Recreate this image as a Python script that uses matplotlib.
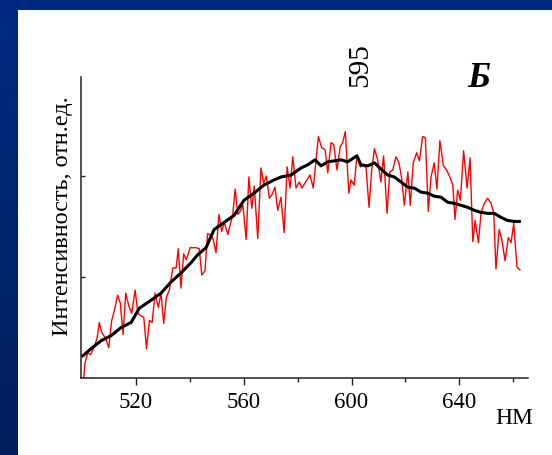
import numpy as np
import matplotlib
matplotlib.use("Agg")
import matplotlib.pyplot as plt
from matplotlib.patches import Rectangle
from matplotlib.ticker import FixedLocator, NullFormatter

# Raw spectrum (wavelength, nm / intensity, arb. units)
raw_nm = [500.6, 501.1, 502.1, 503.1, 504.0, 504.6, 505.6, 506.4, 507.3, 508.3,
          508.9, 509.9, 511.0, 512.0, 513.2, 514.2, 515.2, 516.2, 517.3, 518.4,
          519.7, 520.7, 521.6, 522.9, 523.9, 525.0, 526.0, 527.1, 528.3, 529.3,
          530.3, 531.3, 532.4, 533.7, 534.9, 535.7, 536.7, 537.7, 538.7, 540.1,
          541.2, 542.3, 543.5, 544.4, 545.6, 546.6, 547.9, 548.7, 549.7, 550.8,
          551.8, 552.8, 554.1, 554.9, 555.9, 556.8, 557.8, 558.7, 559.7, 560.9,
          561.9, 563.0, 563.9, 565.2, 566.4, 567.4, 568.4, 569.5, 570.6, 571.6,
          572.6, 573.8, 575.0, 576.1, 577.2, 578.2, 579.4, 580.6, 581.6, 582.7,
          583.7, 584.6, 585.8, 587.7, 588.9, 590.2, 591.2, 592.4, 593.4, 594.6,
          595.8, 596.7, 597.7, 599.0, 599.8, 601.0, 602.0, 603.3, 604.5, 605.4,
          606.5, 607.5, 608.5, 609.7, 610.9, 611.9, 613.2, 614.2, 615.3, 616.5,
          617.6, 618.6, 619.6, 620.9, 621.8, 622.9, 624.2, 625.2, 626.4, 627.4,
          628.5, 629.5, 630.7, 631.7, 632.8, 634.1, 635.3, 636.5, 637.6, 638.4,
          639.4, 640.4, 641.6, 642.9, 644.0, 645.0, 645.9, 647.1, 648.1, 649.3,
          650.5, 651.8, 652.8, 653.6, 654.8, 655.8, 657.0, 658.2, 659.2, 660.2,
          661.4, 662.5]
raw_val = [0.00, 0.15, 0.25, 0.23, 0.28, 0.31, 0.40, 0.55, 0.45, 0.41,
           0.38, 0.30, 0.57, 0.67, 0.82, 0.74, 0.43, 0.84, 0.72, 0.64,
           0.87, 0.64, 0.62, 0.60, 0.29, 0.57, 0.55, 0.84, 0.70, 0.84,
           0.54, 0.80, 0.87, 1.09, 1.09, 1.28, 0.89, 1.23, 1.17, 1.29,
           1.29, 1.29, 1.28, 1.02, 1.06, 1.43, 1.41, 1.37, 1.24, 1.62,
           1.45, 1.54, 1.42, 1.51, 1.61, 1.87, 1.62, 1.65, 1.71, 1.37,
           1.99, 1.68, 1.90, 1.38, 2.08, 1.93, 2.00, 1.78, 1.82, 1.89,
           1.66, 1.79, 1.44, 2.09, 1.88, 2.19, 1.88, 1.94, 1.88, 1.93,
           1.97, 2.01, 1.88, 2.39, 2.28, 2.26, 2.03, 2.33, 2.31, 2.06,
           2.29, 2.33, 2.44, 1.83, 1.96, 1.91, 2.20, 2.09, 2.11, 2.08,
           1.69, 2.06, 2.27, 2.16, 1.94, 2.20, 1.63, 2.04, 2.06, 2.19,
           2.13, 1.98, 1.71, 2.04, 1.71, 2.13, 2.23, 2.15, 2.39, 2.38,
           1.65, 1.99, 2.13, 1.87, 2.35, 2.10, 2.06, 1.99, 1.91, 1.57,
           1.86, 1.76, 2.25, 1.88, 2.18, 1.35, 1.56, 1.34, 1.64, 1.73,
           1.78, 1.73, 1.63, 1.08, 1.47, 1.37, 1.16, 1.39, 1.34, 1.53,
           1.10, 1.07]

# Smoothed spectrum
smooth_nm = [500.3, 503.3, 507.1, 510.8, 514.5, 518.2, 521.2, 525.6, 529.3, 533.0,
             536.7, 540.4, 542.9, 546.0, 549.0, 552.7, 556.4, 560.1, 563.8, 567.5,
             571.2, 573.8, 577.6, 581.3, 583.7, 586.5, 588.7, 591.2, 593.6, 596.1,
             598.6, 602.0, 603.5, 606.0, 608.5, 610.9, 613.4, 615.9, 618.4, 620.9,
             623.3, 625.8, 628.3, 630.7, 633.2, 635.7, 638.1, 640.6, 643.1, 645.6,
             648.0, 650.5, 653.0, 655.5, 657.9, 660.4, 662.3]
smooth_val = [0.22, 0.29, 0.37, 0.42, 0.50, 0.55, 0.69, 0.77, 0.84, 0.95,
              1.04, 1.14, 1.22, 1.29, 1.47, 1.54, 1.61, 1.76, 1.83, 1.91,
              1.96, 1.99, 2.01, 2.08, 2.11, 2.16, 2.10, 2.14, 2.15, 2.16,
              2.14, 2.20, 2.11, 2.10, 2.13, 2.07, 2.01, 1.99, 1.94, 1.89,
              1.88, 1.84, 1.83, 1.80, 1.79, 1.74, 1.73, 1.71, 1.69, 1.66,
              1.64, 1.63, 1.63, 1.59, 1.56, 1.55, 1.55]

x_major = [520, 560, 600, 640]
x_minor = [540, 580, 620, 660]
y_ticks = [1, 2]
peak_label = "595"
panel_label = "Б"
x_unit = "НМ"
y_title = "Интенсивность, отн.ед."

W, H = 552, 455
fig = plt.figure(figsize=(W / 100, H / 100), dpi=100)

# Blue gradient frame with a white slide area
bg = fig.add_axes([0, 0, 1, 1], zorder=-10)
bg.set_axis_off()
top_c = np.array([0x00, 0x2B, 0x82]) / 255
bot_c = np.array([0x00, 0x1F, 0x5C]) / 255
t = np.linspace(0, 1, 256)[:, None]
grad = (top_c[None, :] * (1 - t) + bot_c[None, :] * t)[:, None, :]
bg.imshow(grad, aspect="auto", extent=[0, 1, 0, 1], origin="upper")
bg.add_patch(Rectangle((18 / W, 0), 1 - 18 / W, (H - 10) / H,
                       transform=bg.transAxes, facecolor="white", edgecolor="none"))
bg.set_xlim(0, 1)
bg.set_ylim(0, 1)

serif = ["Liberation Serif", "DejaVu Serif"]

ax = fig.add_axes([81 / W, (H - 378) / H, (528 - 81) / W, (378 - 77) / H])
ax.patch.set_alpha(0)
ax.plot(raw_nm, raw_val, color="#ff0000", lw=1.0, zorder=2)
ax.plot(smooth_nm, smooth_val, color="black", lw=2.2, zorder=3)

ax.set_xlim(499.6, 665.5)
ax.set_ylim(0, 2.98)
for s in ("top", "right"):
    ax.spines[s].set_visible(False)
for s in ("left", "bottom"):
    ax.spines[s].set_linewidth(1.1)
    ax.spines[s].set_color("#222222")

ax.xaxis.set_major_locator(FixedLocator(x_major))
ax.xaxis.set_minor_locator(FixedLocator(x_minor))
ax.xaxis.set_minor_formatter(NullFormatter())
ax.tick_params(axis="x", which="major", direction="out", length=5, width=1,
               pad=5, labelsize=16.5, color="#222222")
ax.tick_params(axis="x", which="minor", direction="out", length=3, width=1,
               color="#222222")
for lab in ax.get_xticklabels():
    lab.set_fontfamily(serif)
ax.yaxis.set_major_locator(FixedLocator(y_ticks))
ax.tick_params(axis="y", which="major", direction="in", length=3, width=1,
               labelleft=False, color="#222222")

ax.text(603.2, 3.10, peak_label, rotation=90, ha="center", va="center",
        fontsize=21, family=serif, clip_on=False)
ax.text(647.4, 2.97, panel_label, ha="center", va="center", fontsize=26,
        family=serif, weight="bold", style="italic", clip_on=False)

fig.text(514 / W, (H - 419) / H, x_unit, ha="center", va="center",
         fontsize=17, family=serif)
fig.text(63 / W, (H - 216) / H, y_title, rotation=90, ha="center", va="center",
         fontsize=17.5, family=serif)

fig.savefig("out.png", dpi=100)
